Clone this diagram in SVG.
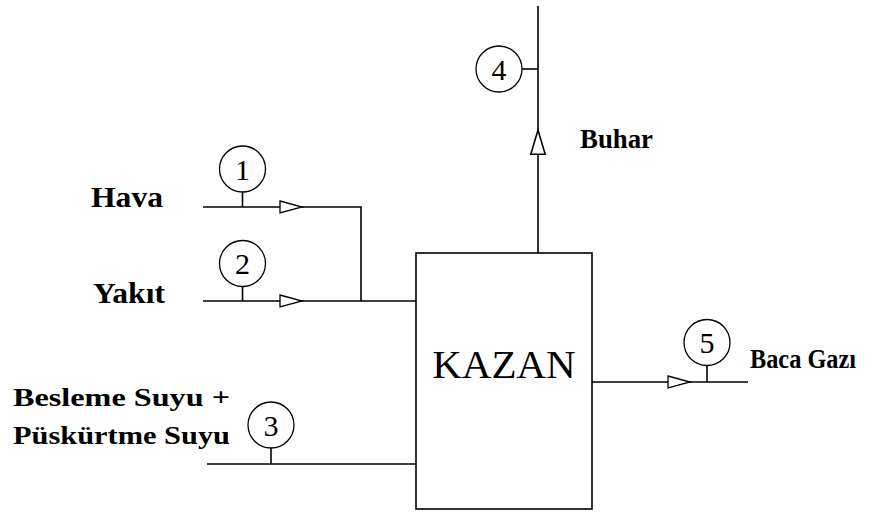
<svg xmlns="http://www.w3.org/2000/svg" xmlns:xlink="http://www.w3.org/1999/xlink" width="890" height="514" viewBox="0 0 890 514">
  <style>
    .ln { fill: none; stroke: #000; stroke-width: 1.6; }
    .bx { fill: #fff; stroke: #000; stroke-width: 1.6; }
    .cir { fill: #fff; stroke: #000; stroke-width: 1.3; }
    .num { font-family: "Liberation Serif", "Times New Roman", serif; font-size: 30px; text-anchor: middle; fill: #000; }
    .lbl { font-family: "Liberation Serif", "Times New Roman", serif; font-weight: bold; fill: #000; }
    .big { font-family: "Liberation Serif", "Times New Roman", serif; font-size: 41px; text-anchor: middle; fill: #000; }
    .arr { fill: #fff; stroke: #000; stroke-width: 1.3; }
  </style>
  <defs>
    <path id="tri" class="arr" d="M-22,-6 L0,0 L-22,6 Z"/>
  </defs>
  <rect width="890" height="514" fill="#fff"/>

  <g id="connectors">
    <path class="ln" d="M203,207 H361 V301"/>
    <path class="ln" d="M203,301 H416"/>
    <path class="ln" d="M207,464 H416"/>
    <path class="ln" d="M538,253 V6"/>
    <path class="ln" d="M592,382 H748"/>
    <path class="ln" d="M242.5,192 V207"/>
    <path class="ln" d="M242.5,286.5 V301"/>
    <path class="ln" d="M271,448 V464"/>
    <path class="ln" d="M522,69 H538"/>
    <path class="ln" d="M707,365.5 V382"/>
    <use xlink:href="#tri" transform="translate(302,207)"/>
    <use xlink:href="#tri" transform="translate(302,301)"/>
    <use xlink:href="#tri" transform="translate(690,382)"/>
    <use xlink:href="#tri" transform="translate(538,130) rotate(-90) scale(1.1,1.2)"/>
  </g>

  <g id="node-kazan">
    <rect class="bx" x="416" y="253" width="176" height="256"/>
    <text class="big" x="504" y="378">KAZAN</text>
  </g>

  <g id="node-1">
    <circle class="cir" cx="242.5" cy="169" r="23"/>
    <text class="num" x="242.5" y="179.5">1</text>
  </g>
  <g id="node-2">
    <circle class="cir" cx="242.5" cy="263.5" r="23"/>
    <text class="num" x="242.5" y="274">2</text>
  </g>
  <g id="node-3">
    <circle class="cir" cx="271" cy="425" r="23"/>
    <text class="num" x="271" y="435.5">3</text>
  </g>
  <g id="node-4">
    <circle class="cir" cx="499" cy="69" r="23"/>
    <text class="num" x="499" y="79.5">4</text>
  </g>
  <g id="node-5">
    <circle class="cir" cx="707" cy="342.5" r="23"/>
    <text class="num" x="707" y="353">5</text>
  </g>

  <g id="labels">
    <text class="lbl" x="91" y="207" font-size="29" textLength="72" lengthAdjust="spacingAndGlyphs">Hava</text>
    <text class="lbl" x="93" y="303" font-size="30" textLength="72" lengthAdjust="spacingAndGlyphs">Yakıt</text>
    <text class="lbl" x="580" y="148" font-size="27" textLength="73" lengthAdjust="spacingAndGlyphs">Buhar</text>
    <text class="lbl" x="750" y="368" font-size="27" textLength="106" lengthAdjust="spacingAndGlyphs">Baca Gazı</text>
    <text class="lbl" x="13" y="406" font-size="26" textLength="217" lengthAdjust="spacingAndGlyphs">Besleme Suyu +</text>
    <text class="lbl" x="13" y="444" font-size="26" textLength="217" lengthAdjust="spacingAndGlyphs">Püskürtme Suyu</text>
  </g>
</svg>
